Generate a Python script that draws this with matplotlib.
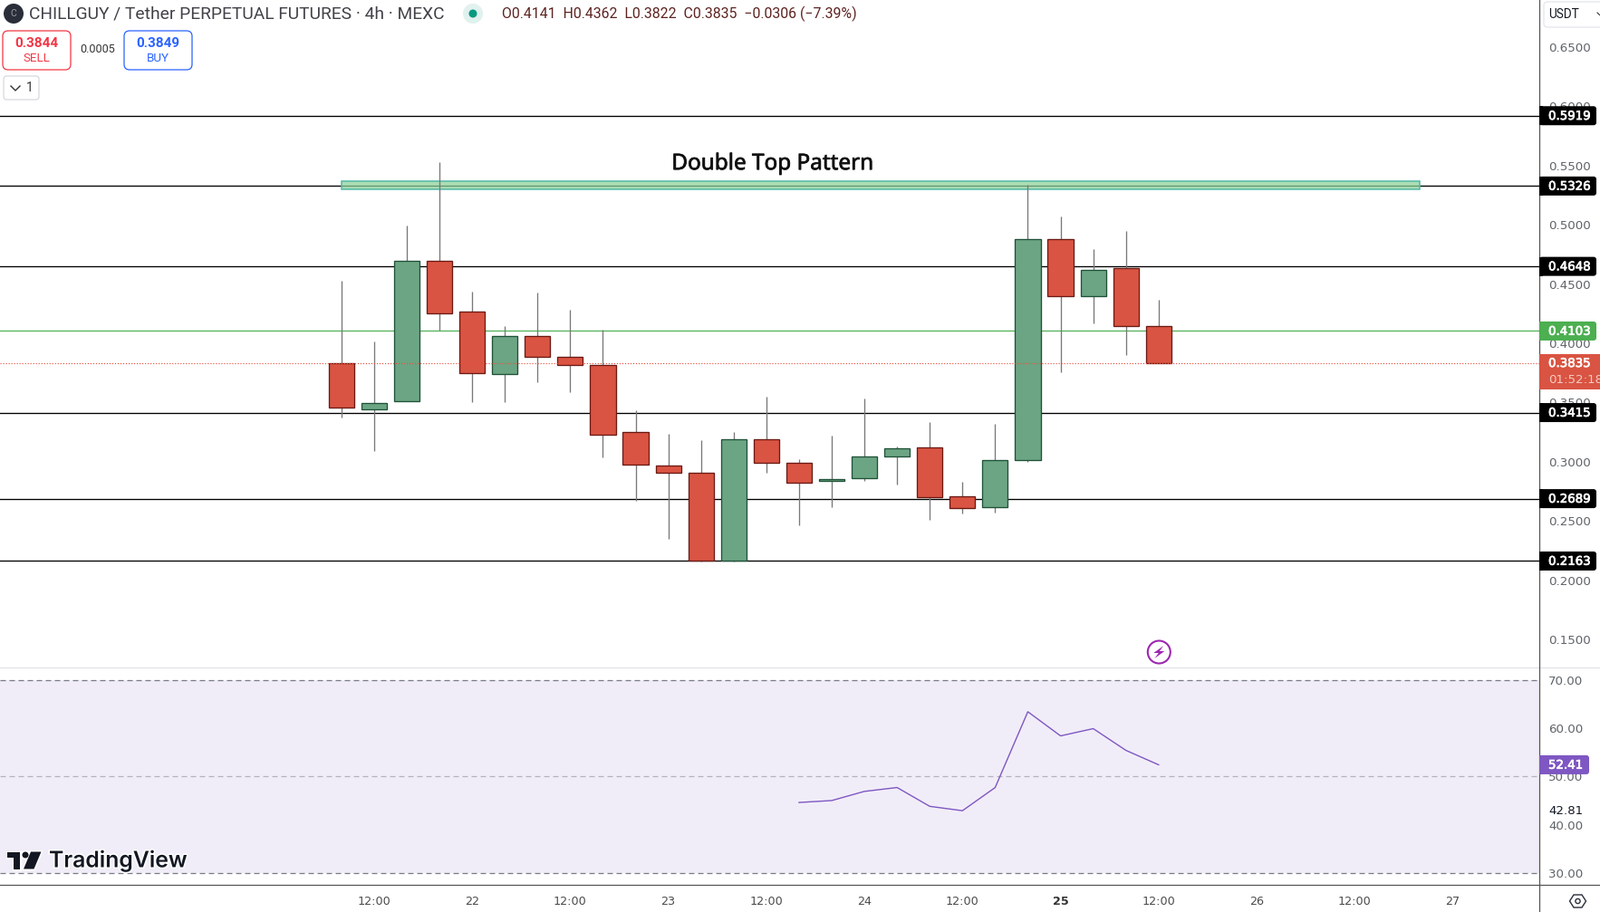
import matplotlib
matplotlib.use("Agg")
import matplotlib.pyplot as plt
import matplotlib.patheffects as pe
from matplotlib.patches import FancyBboxPatch, Circle, Polygon, Rectangle

# ---- data ----
opens  = [0.3831, 0.3439, 0.3508, 0.4692, 0.4264, 0.3737, 0.4058, 0.3882, 0.3813, 0.3248,
          0.2965, 0.2904, 0.2168, 0.3187, 0.2988, 0.2836, 0.2858, 0.3042, 0.3118, 0.2706,
          0.2614, 0.3011, 0.4875, 0.4394, 0.4631, 0.4142]
closes = [0.3454, 0.3493, 0.4692, 0.4249, 0.3745, 0.4058, 0.3882, 0.3813, 0.3225, 0.2973,
          0.2904, 0.2168, 0.3187, 0.2988, 0.2820, 0.2851, 0.3042, 0.3111, 0.2698, 0.2606,
          0.3011, 0.4875, 0.4394, 0.4616, 0.4142, 0.3835]
highs  = [0.4526, 0.4015, 0.4992, 0.5527, 0.4435, 0.4144, 0.4427, 0.4282, 0.4114, 0.3431,
          0.3235, 0.3182, 0.3251, 0.3549, 0.3021, 0.3220, 0.3533, 0.3128, 0.3335, 0.2831,
          0.3319, 0.5336, 0.5069, 0.4794, 0.4947, 0.4366]
lows   = [0.3375, 0.3093, 0.3508, 0.4104, 0.3505, 0.3505, 0.3673, 0.3589, 0.3039, 0.2673,
          0.2352, 0.2156, 0.2156, 0.2909, 0.2466, 0.2619, 0.2841, 0.2810, 0.2512, 0.2566,
          0.2573, 0.3001, 0.3757, 0.4170, 0.3903, 0.3829]
level_prices = [0.5919, 0.5326, 0.4648, 0.3415, 0.2689, 0.2163]
current_price = 0.3835
prev_close_line = 0.4103
price_ticks = [0.15, 0.20, 0.25, 0.30, 0.35, 0.40, 0.45, 0.50, 0.55, 0.60, 0.65]
zone_low, zone_high = 0.5295, 0.5364
rsi_index = [14, 15, 16, 17, 18, 19, 20, 21, 22, 23, 24, 25]
rsi_values = [44.6, 45.0, 46.9, 47.7, 43.8, 42.9, 47.7, 63.4, 58.4, 59.9, 55.4, 52.41]
rsi_ticks = [30, 40, 50, 60, 70]
time_ticks = [1, 4, 7, 10, 13, 16, 19, 22, 25, 28, 31, 34]
time_labels = ["12:00", "22", "12:00", "23", "12:00", "24", "12:00", "25", "12:00", "26", "12:00", "27"]

W, H = 1766, 1007
UP, DOWN = "#6ca583", "#d95442"
UP_E, DOWN_E = "#1f5238", "#6b1a14"
AXC = "#555555"
TICKC = "#5f6368"
TS = 9.6

fig = plt.figure(figsize=(W / 100, H / 100), dpi=100, facecolor="white")
AX_R = 1699
BOT = 977
ax = fig.add_axes([0, 1 - 737 / H, AX_R / W, 737 / H])
rs = fig.add_axes([0, 1 - BOT / H, AX_R / W, (BOT - 737) / H])
for a in (ax, rs):
    a.set_xlim(-10.443, 36.646)
    for s in a.spines.values():
        s.set_visible(False)
    a.yaxis.tick_right()
    a.tick_params(axis="y", length=0, pad=7.2, labelsize=TS, labelcolor=TICKC)
    a.patch.set_alpha(0)
ax.set_ylim(0.1265, 0.6895)
rs.set_ylim(27.54, 72.57)

# price pane
ax.set_xticks([])
ax.set_yticks(price_ticks, [f"{p:.4f}" for p in price_ticks])
for p in level_prices:
    ax.axhline(p, color="black", lw=0.95, zorder=1)
ax.axhline(prev_close_line, color="#4caf50", lw=0.85, zorder=1)
ax.add_patch(Rectangle((0, zone_low), 33, zone_high - zone_low, facecolor=(0.55, 0.82, 0.6, 0.72),
                       edgecolor="#52b8a5", lw=1.1, zorder=1.5))
idx = list(range(len(opens)))
ax.vlines(idx, lows, highs, color="#787878", lw=0.95, zorder=2)
colors = [UP if c >= o else DOWN for o, c in zip(opens, closes)]
edges = [UP_E if c >= o else DOWN_E for o, c in zip(opens, closes)]
ax.bar(idx, [c - o for o, c in zip(opens, closes)], bottom=opens, width=0.78,
       color=colors, edgecolor=edges, linewidth=0.95, zorder=3)
ax.axhline(current_price, color="#e8503f", lw=0.85, ls=(0, (1, 1.55)), zorder=4)

ax.text(13.2, 0.5511, "Double Top Pattern", ha="center", va="center", fontsize=17.5,
        family="Noto Sans", color="#111111", zorder=5,
        path_effects=[pe.withStroke(linewidth=0.5, foreground="#111111")])

# RSI pane
rs.axhspan(30, 70, color="#7e57c2", alpha=0.1, lw=0, zorder=0)
DASH = (0, (4.8, 3.2))
rs.axhline(70, color="#787b86", lw=0.9, ls=DASH, zorder=1)
rs.axhline(50, color="#b4b2bc", lw=0.9, ls=DASH, zorder=1)
rs.axhline(30, color="#787b86", lw=0.9, ls=DASH, zorder=1)
rs.plot(rsi_index, rsi_values, color="#7e57c2", lw=1.0, zorder=3)
rs.set_yticks(rsi_ticks, [f"{v:.2f}" for v in rsi_ticks])
rs.set_xticks(time_ticks, time_labels)
rs.tick_params(axis="x", length=0, pad=8.6, labelsize=9.2, labelcolor="#4a4a4a")
for lab, txt in zip(rs.get_xticklabels(), time_labels):
    if txt == "25":
        lab.set_fontweight("bold")
        lab.set_color("#333333")

# pixel overlay for chrome
ov = fig.add_axes([0, 0, 1, 1], zorder=10)
ov.set_xlim(0, W)
ov.set_ylim(H, 0)
ov.axis("off")
ov.patch.set_alpha(0)

def ypx(axis, v):
    return H - axis.transData.transform((0, v))[1]

def box(x0, y0, x1, y1, fc, ec="none", lw=0, r=3, z=2):
    ov.add_patch(FancyBboxPatch((x0 + r, y0 + r), x1 - x0 - 2 * r, y1 - y0 - 2 * r,
                                boxstyle=f"round,pad={r},rounding_size={r}",
                                fc=fc, ec=ec, lw=lw, zorder=z, clip_on=True))

ov.plot([AX_R, AX_R], [0, H], color=AXC, lw=0.9, zorder=4)
ov.plot([0, W], [BOT, BOT], color=AXC, lw=0.9, zorder=4)
ov.plot([0, W], [737, 737], color="#e0e3eb", lw=0.9, zorder=1)

STROKE = [pe.withStroke(linewidth=0.5, foreground="white")]
TX = 1709

def tag(v, fc, right=1762):
    y = ypx(ax, v)
    ov.add_patch(Rectangle((AX_R, y - 10.5), 4, 21, fc=fc, ec="none", zorder=5))
    box(AX_R, y - 10.5, right, y + 10.5, fc, z=5)
    ov.text(TX, y + 0.8, f"{v:.4f}", color="white", fontsize=TS, va="center", ha="left", zorder=6,
            path_effects=STROKE)

for p in level_prices:
    tag(p, "#000000")
tag(prev_close_line, "#4caf50")

y = ypx(ax, current_price)
ov.add_patch(Rectangle((AX_R, y - 10), W - AX_R, 39, fc="#d95442", ec="none", zorder=5))
ov.text(TX, y + 1, f"{current_price:.4f}", color="white", fontsize=TS, va="center", zorder=6,
        path_effects=STROKE)
ov.text(TX, y + 19, "01:52:18", color="#f6c9c2", fontsize=TS, va="center", zorder=6, clip_on=True)

y = ypx(rs, rsi_values[-1])
ov.add_patch(Rectangle((AX_R, y - 10.5), 4, 21, fc="#7e57c2", ec="none", zorder=5))
box(AX_R, y - 10.5, 1754, y + 10.5, "#7e57c2", z=5)
ov.text(TX, y + 0.8, f"{rsi_values[-1]:.2f}", color="white", fontsize=TS, va="center", zorder=6,
        path_effects=STROKE)
ov.text(TX, ypx(rs, 42.81) + 0.3, "42.81", color="#131722", fontsize=TS, va="center", zorder=6)

# header
HF = "Roboto"
ov.add_patch(Circle((15, 15), 11, fc="#2a2e39", ec="none"))
ov.text(15, 15, "C", color="#9aa0aa", fontsize=7.5, ha="center", va="center", family=HF)
ov.text(32, 15, "CHILLGUY / Tether PERPETUAL FUTURES · 4h · MEXC", color="#3f4147", fontsize=13.8,
        va="center", family=HF)
ov.add_patch(Circle((522, 15), 11, fc="#e0f1ee", ec="none"))
ov.add_patch(Circle((522, 15), 4.5, fc="#089981", ec="none"))
ov.text(554, 15, "O0.4141  H0.4362  L0.3822  C0.3835  −0.0306 (−7.39%)", color="#5d2320",
        fontsize=11.45, va="center", family=HF)

box(3, 34, 78, 77, "white", "#f23645", 0.9, r=6)
ov.text(40.5, 48, "0.3844", color="#f23645", fontsize=11, fontweight="bold", ha="center", va="center", family=HF)
ov.text(40.5, 65, "SELL", color="#f23645", fontsize=9.6, ha="center", va="center", family=HF)
ov.text(108, 54.5, "0.0005", color="#333333", fontsize=9, ha="center", va="center", family=HF)
box(137, 34, 212, 77, "white", "#2962ff", 0.9, r=6)
ov.text(174.5, 48, "0.3849", color="#2962ff", fontsize=11, fontweight="bold", ha="center", va="center", family=HF)
ov.text(174.5, 65, "BUY", color="#2962ff", fontsize=9.6, ha="center", va="center", family=HF)
box(4, 84, 43, 110, "white", "#d1d4dc", 0.8, r=3)
ov.plot([12, 17, 22], [95, 100, 95], color="#333333", lw=1.0)
ov.text(33, 97, "1", color="#333333", fontsize=10, ha="center", va="center", family=HF)

# USDT box
box(1704, 2, 1790, 30, "white", "#e0e3eb", 0.8, r=4)
ov.text(1709, 15.5, "USDT", color="#131722", fontsize=9.8, va="center", family=HF)
ov.plot([1763, 1765.5], [14, 16.5], color="#333333", lw=0.8)

# alert icon
cx, cy = 1279.3, 720
ov.add_patch(Circle((cx, cy), 12.5, fc="white", ec="#9c27b0", lw=1.5))
ov.add_patch(Polygon([(cx + 5, cy - 7), (cx - 6, cy + 1), (cx - 0.5, cy + 1), (cx - 5, cy + 7),
                      (cx + 6, cy - 1), (cx + 0.5, cy - 1)], fc="#9c27b0", ec="none"))

# settings icon
cx, cy = 1741.5, 995
ov.add_patch(Polygon([(cx - 9, cy), (cx - 4.5, cy - 7), (cx + 4.5, cy - 7), (cx + 9, cy),
                      (cx + 4.5, cy + 7), (cx - 4.5, cy + 7)], fc="white", ec="#2a2e39", lw=1.0))
ov.add_patch(Circle((cx, cy), 2.6, fc="white", ec="#2a2e39", lw=1.0))

# TradingView logo
shapes = [lambda **k: Polygon([(8, 940.5), (22, 940.5), (22, 959.5), (15, 959.5), (15, 947), (8, 947)], **k),
          lambda **k: Circle((28, 944), 3.5, **k),
          lambda **k: Polygon([(34, 940.5), (45.5, 940.5), (37.5, 959.5), (26, 959.5)], **k)]
for s in shapes:
    ov.add_patch(s(fc="white", ec="white", lw=2.4, joinstyle="round", zorder=2))
for s in shapes:
    ov.add_patch(s(fc="#131722", ec="none", zorder=2.1))
ov.text(54, 950, "TradingView", color="#131722", fontsize=17.8, fontweight="semibold", va="center",
        family="Inter", zorder=3, path_effects=[pe.withStroke(linewidth=2.2, foreground="white")])

fig.savefig("out.png", dpi=100)
